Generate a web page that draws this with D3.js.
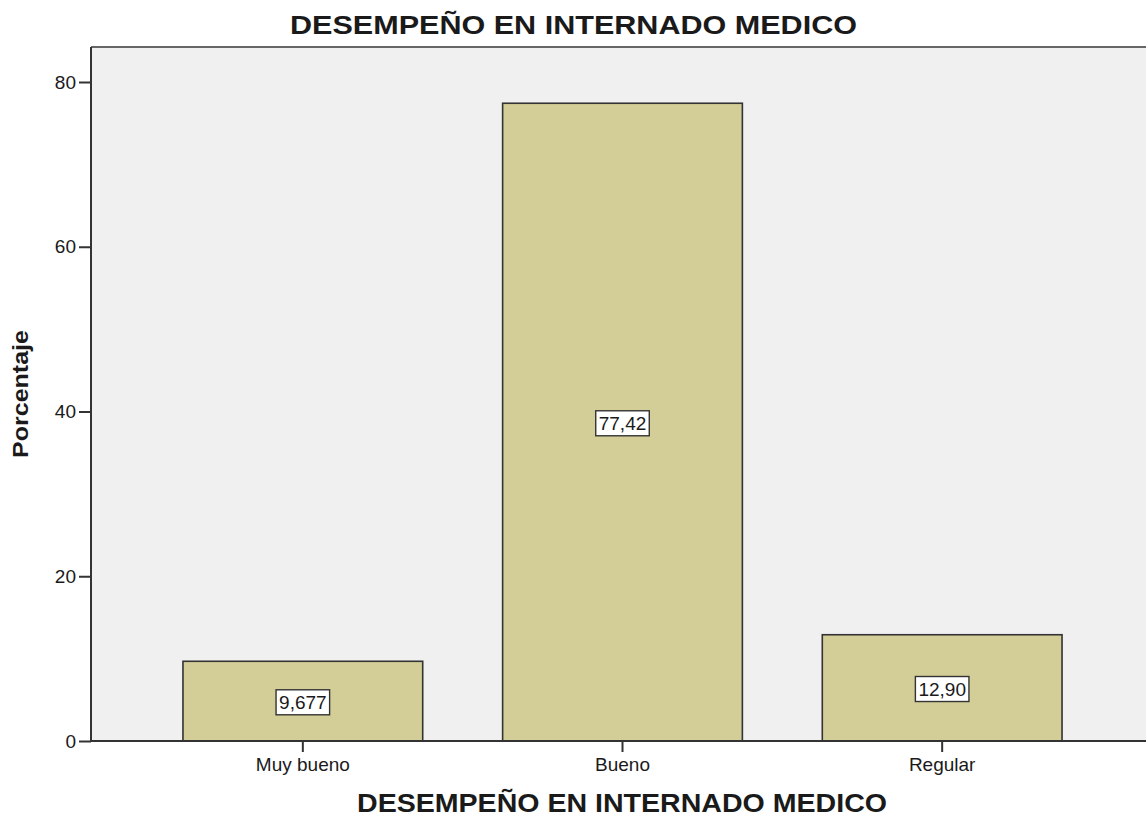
<!DOCTYPE html>
<html>
<head>
<meta charset="utf-8">
<script src="https://cdn.jsdelivr.net/npm/d3@7"></script>
<style>
  body { margin: 0; background: #fff; }
  svg text { font-family: Arial, "Liberation Sans", sans-serif; }
</style>
</head>
<body>
<div id="main"></div>
<script>
// DATA
const categories = ["Muy bueno", "Bueno", "Regular"]
const values = [9.677, 77.42, 12.90]
const valueLabels = ["9,677", "77,42", "12,90"]
const yTicks = [0, 20, 40, 60, 80]

const width = 1146
const height = 819

const plot = {left: 91, top: 47, right: 1153, bottom: 741}

const barFill = '#d3cd97'
const bgFill = '#f0f0f0'
const ink = '#1a1a1a'

let svg = d3.select("#main").append("svg")
    .attr("width", width)
    .attr("height", height)

let x = d3.scaleBand()
    .domain(categories)
    .range([143, 1102])
    .paddingInner(0.25)
    .paddingOuter(0.125)

let y = d3.scaleLinear()
    .domain([0, 80])
    .range([plot.bottom, 82])

// background
svg.append("rect")
    .attr("x", plot.left)
    .attr("y", plot.top)
    .attr("width", plot.right - plot.left)
    .attr("height", plot.bottom - plot.top)
    .attr("fill", bgFill)

// top border
svg.append("line")
    .attr("x1", plot.left).attr("x2", plot.right)
    .attr("y1", plot.top).attr("y2", plot.top)
    .attr("stroke", "#666").attr("stroke-width", 2)

// bars
svg.selectAll("rect.bar")
    .data(values)
    .enter().append("rect")
        .attr("class", "bar")
        .attr("x", (d, i) => x(categories[i]))
        .attr("y", d => y(d))
        .attr("width", x.bandwidth())
        .attr("height", d => y(0) - y(d))
        .attr("fill", barFill)
        .attr("stroke", "#333")
        .attr("stroke-width", 1.6)

// value labels in boxes
let lab = svg.selectAll("g.lab")
    .data(values)
    .enter().append("g")
        .attr("class", "lab")
        .attr("transform", (d, i) => `translate(${x(categories[i]) + x.bandwidth() / 2},${(y(d) + y(0)) / 2 + 1})`)

lab.append("text")
    .attr("text-anchor", "middle")
    .attr("dy", "0.35em")
    .attr("font-size", 19)
    .attr("fill", ink)
    .text((d, i) => valueLabels[i])

lab.each(function() {
    let g = d3.select(this)
    let bb = g.select("text").node().getBBox()
    g.insert("rect", "text")
        .attr("x", bb.x - 3)
        .attr("y", bb.y - 2)
        .attr("width", bb.width + 6)
        .attr("height", bb.height + 4)
        .attr("fill", "#fff")
        .attr("stroke", "#333")
        .attr("stroke-width", 1.4)
})

// y axis
let yAxis = svg.append("g")
    .attr("transform", `translate(${plot.left},0)`)
    .call(d3.axisLeft(y).tickValues(yTicks).tickSize(12).tickPadding(3).tickFormat(d3.format("d")))
yAxis.select(".domain")
    .attr("d", `M0,${plot.top}V${plot.bottom}`)
    .attr("stroke", "#333").attr("stroke-width", 2)
yAxis.selectAll(".tick line").attr("stroke", "#333").attr("stroke-width", 2)
yAxis.selectAll(".tick text")
    .attr("font-size", 19)
    .attr("fill", ink)
    .style("font-family", "Arial, 'Liberation Sans', sans-serif")

// x axis
let xAxis = svg.append("g")
    .attr("transform", `translate(0,${plot.bottom})`)
    .call(d3.axisBottom(x).tickSize(11).tickPadding(6))
xAxis.select(".domain")
    .attr("d", `M${plot.left},0H${plot.right}`)
    .attr("stroke", "#333").attr("stroke-width", 2)
xAxis.selectAll(".tick line").attr("stroke", "#333").attr("stroke-width", 2)
xAxis.selectAll(".tick text")
    .attr("font-size", 19)
    .attr("fill", ink)
    .style("font-family", "Arial, 'Liberation Sans', sans-serif")

// titles
svg.append("text")
    .attr("x", 573.5).attr("y", 34)
    .attr("text-anchor", "middle")
    .attr("font-size", 26).attr("font-weight", "bold")
    .attr("textLength", 567).attr("lengthAdjust", "spacingAndGlyphs")
    .attr("fill", ink)
    .text("DESEMPEÑO EN INTERNADO MEDICO")

svg.append("text")
    .attr("x", 622).attr("y", 812)
    .attr("text-anchor", "middle")
    .attr("font-size", 25).attr("font-weight", "bold")
    .attr("textLength", 530).attr("lengthAdjust", "spacingAndGlyphs")
    .attr("fill", ink)
    .text("DESEMPEÑO EN INTERNADO MEDICO")

svg.append("text")
    .attr("transform", "translate(28,394) rotate(-90)")
    .attr("text-anchor", "middle")
    .attr("font-size", 22).attr("font-weight", "bold")
    .attr("textLength", 128).attr("lengthAdjust", "spacingAndGlyphs")
    .attr("fill", ink)
    .text("Porcentaje")
</script>
</body>
</html>
